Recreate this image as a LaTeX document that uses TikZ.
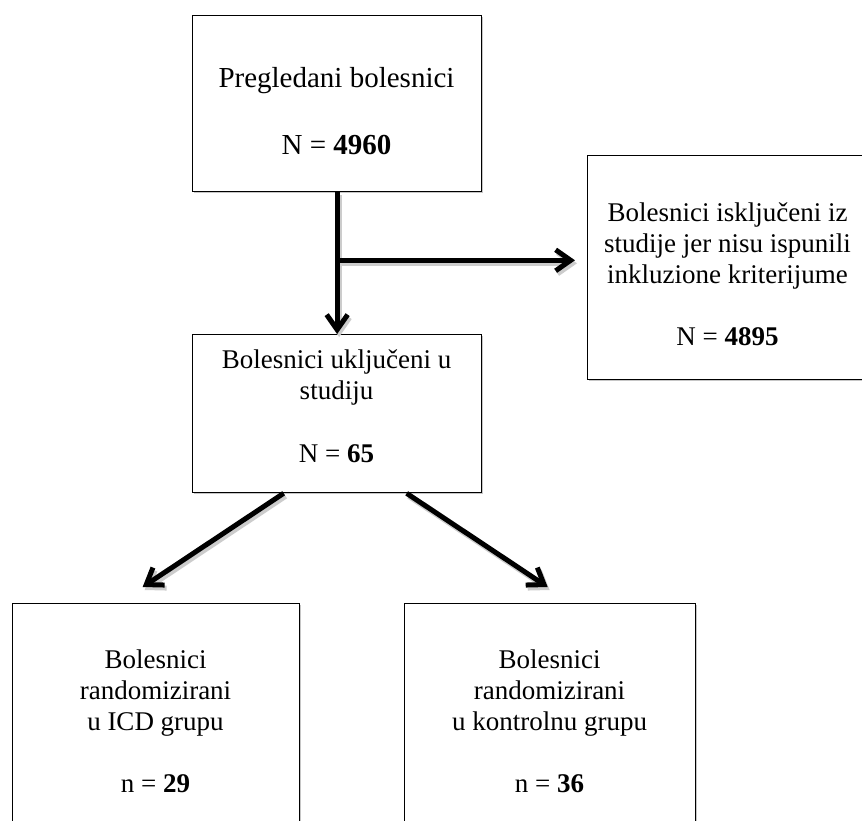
\documentclass[tikz,border=0pt]{standalone}
\usepackage{fontspec}
\setmainfont{Liberation Serif}
\usetikzlibrary{arrows.meta,calc,shadows}
\newcommand\bigtxt{\fontsize{29}{33}\selectfont}
\newcommand\smalltxt{\fontsize{27}{31}\selectfont}
\begin{document}
\begin{tikzpicture}[x=1pt,y=-1pt,
  box/.style={draw=black, fill=white, line width=1.3pt, inner sep=0pt, anchor=north west,
    drop shadow={shadow xshift=1.3pt, shadow yshift=-1.3pt, fill=gray!45, opacity=1}},
  txtA/.style={anchor=base, inner sep=0pt, font=\bigtxt},
  txtB/.style={anchor=base, inner sep=0pt, font=\smalltxt},
  arr/.style={line width=5pt, line join=round, -{Straight Barb[length=15pt,width=21pt]}},
  arrshadow/.style={arr, draw=gray!40, transform canvas={xshift=2pt,yshift=-3pt}}]
\useasboundingbox (0,0) rectangle (862,820);
\clip (0,0) rectangle (862,820);
\fill[white] (0,0) rectangle (862,820);

% boxes
\node[box, minimum width=289pt, minimum height=176pt] (top) at (192,15) {};
\node[box, minimum width=281pt, minimum height=224pt] (right) at (587,155) {};
\node[box, minimum width=289pt, minimum height=158pt] (mid) at (192,334) {};
\node[box, minimum width=287pt, minimum height=240pt] (bl) at (12,603) {};
\node[box, minimum width=291pt, minimum height=240pt] (br) at (404,603) {};

% texts
\node[txtA] (t1a) at (336.5,87) {Pregledani bolesnici};
\node[txtA] (t1b) at (336.5,154) {N = \textbf{4960}};

\node[txtB] (t2a) at (727.5,221) {Bolesnici isključeni iz};
\node[txtB] (t2b) at (727.5,252) {studije jer nisu ispunili};
\node[txtB] (t2c) at (727.5,283) {inkluzione kriterijume};
\node[txtB] (t2d) at (727.5,345) {N = \textbf{4895}};

\node[txtB] (t3a) at (336.5,368) {Bolesnici uključeni u};
\node[txtB] (t3b) at (336.5,399) {studiju};
\node[txtB] (t3c) at (336.5,462) {N = \textbf{65}};

\node[txtB] (t4a) at (155.5,668) {Bolesnici};
\node[txtB] (t4b) at (155.5,699) {randomizirani};
\node[txtB] (t4c) at (155.5,730) {u ICD grupu};
\node[txtB] (t4d) at (155.5,792) {n = \textbf{29}};

\node[txtB] (t5a) at (549.5,668) {Bolesnici};
\node[txtB] (t5b) at (549.5,699) {randomizirani};
\node[txtB] (t5c) at (549.5,730) {u kontrolnu grupu};
\node[txtB] (t5d) at (549.5,792) {n = \textbf{36}};

% connector points
\coordinate (brp) at ($(top.south)+(0,68)$);
\coordinate (s1) at ($(mid.south)+(-53.5,0)$);
\coordinate (e1) at ($(bl.north)+(-13.5,-16)$);
\coordinate (s2) at ($(mid.south)+(69.5,0)$);
\coordinate (e2) at ($(br.north)+(-2.5,-16)$);

% arrow shadows
\draw[arrshadow] (top.south) -- (mid.north);
\draw[arrshadow, shorten >=12pt] (brp) -- (brp -| right.west);
\draw[arrshadow] (s1) -- (e1);
\draw[arrshadow] (s2) -- (e2);

% arrows
\draw[arr] (top.south) -- (mid.north);
\draw[arr, shorten >=12pt] (brp) -- (brp -| right.west);
\draw[arr] (s1) -- (e1);
\draw[arr] (s2) -- (e2);
\end{tikzpicture}
\end{document}
